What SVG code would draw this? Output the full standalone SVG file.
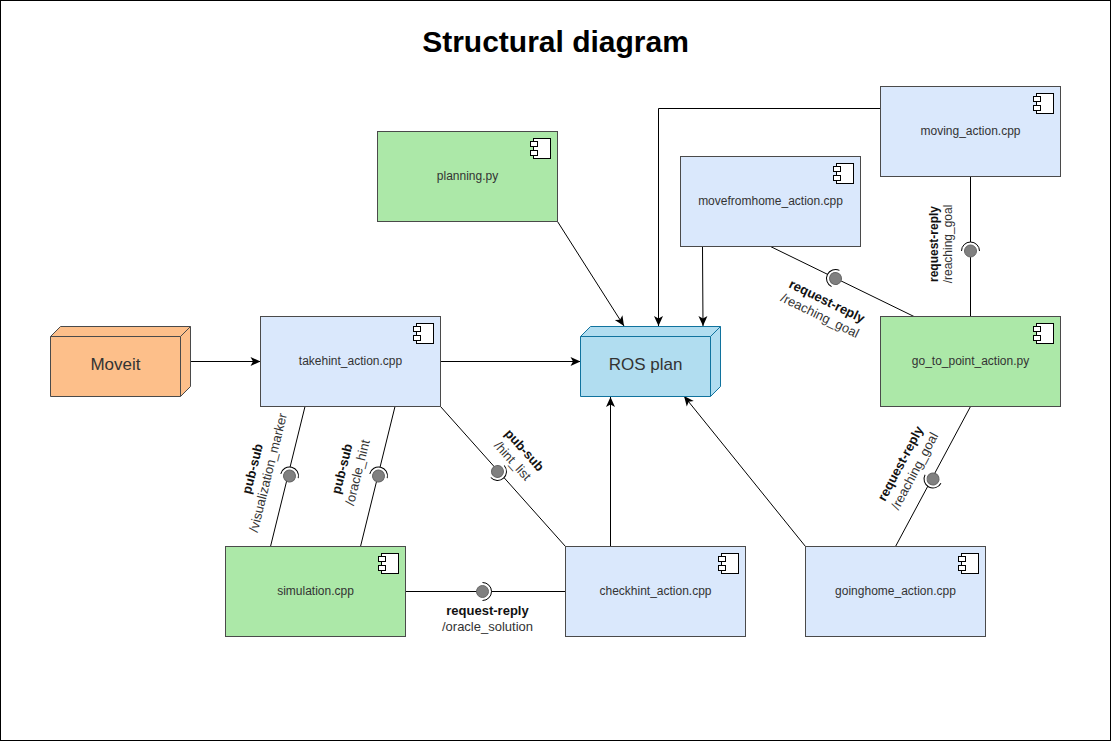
<svg xmlns="http://www.w3.org/2000/svg" width="1111" height="742" viewBox="0 0 1111 742">
<style>
text{font-family:"Liberation Sans",Arial,sans-serif;font-size:12px;fill:#333;text-anchor:middle}
.t{font-size:30px;font-weight:bold;fill:#000}
.big{font-size:17px}
.b{font-size:13px;font-weight:bold;fill:#111}
.r{font-size:13px;fill:#333}
.s{font-size:12px}
.box{stroke:#4a4a4a;stroke-width:1}
.blue{fill:#dae8fc}
.green{fill:#ace8a8}
.ln{fill:none;stroke:#000;stroke-width:1}
.ball{fill:#808080;stroke:#666;stroke-width:1}
.arc{fill:#fff;stroke:#000;stroke-width:1}
.ic{fill:#fff;stroke:#000;stroke-width:1}
.cube{stroke-width:1;stroke-linejoin:round}
</style>
<defs>
<marker id="a" markerUnits="userSpaceOnUse" markerWidth="12" markerHeight="11" refX="10.5" refY="5.5" orient="auto"><path d="M0.5,1 L10.5,5.5 L0.5,10 L3,5.5 Z" fill="#000"/></marker>
<g id="icon"><rect class="ic" x="156" y="7" width="17" height="20"/><rect class="ic" x="153" y="10" width="7" height="5"/><rect class="ic" x="153" y="19" width="7" height="5"/></g>
<g id="sock"><path class="arc" d="M0,-9 A9,9 0 0 1 0,9"/><circle class="ball" r="6"/></g>
</defs>
<rect width="1111" height="742" fill="#fff"/>
<rect x="0.5" y="0.5" width="1110" height="740" fill="#fff" stroke="#000"/>
<text class="t" x="555.5" y="52">Structural diagram</text>
<g id="connectors">
<path class="ln" d="M305,406.5 L270.5,546.5"/>
<path class="ln" d="M395,406.5 L360.5,546.5"/>
<path class="ln" d="M440.5,406.5 L565.5,546.5"/>
<path class="ln" d="M405.5,591.5 H565.5"/>
<path class="ln" d="M770.5,246.5 L914,316.5"/>
<path class="ln" d="M970.5,176.5 V316.5"/>
<path class="ln" d="M970.5,406.5 L895.5,546.5"/>
<path class="ln" marker-end="url(#a)" d="M190.5,361.5 H260.5"/>
<path class="ln" marker-end="url(#a)" d="M440.5,361.5 H580.5"/>
<path class="ln" marker-end="url(#a)" d="M557.5,221.5 L624,326"/>
<path class="ln" marker-end="url(#a)" d="M880.5,108.5 H658.5 V326"/>
<path class="ln" marker-end="url(#a)" d="M702.5,246.5 L703,326"/>
<path class="ln" marker-end="url(#a)" d="M610.5,546.5 V397"/>
<path class="ln" marker-end="url(#a)" d="M805.5,546.5 L684,396"/>
<use href="#sock" transform="translate(289.5,476) rotate(-76)"/>
<use href="#sock" transform="translate(378.5,476) rotate(-76)"/>
<use href="#sock" transform="translate(497.5,471.5) rotate(48)"/>
<use href="#sock" transform="translate(482.5,591.5)"/>
<use href="#sock" transform="translate(835.5,278.5) rotate(206)"/>
<use href="#sock" transform="translate(970.5,251) rotate(-90)"/>
<use href="#sock" transform="translate(933,479) rotate(118)"/>
</g>
<g id="labels">
<g transform="translate(265.5,472) rotate(-76)"><text class="b" y="-9">pub-sub</text><text class="r" y="7">/visualization_marker</text></g>
<g transform="translate(355,472) rotate(-76)"><text class="b" y="-9">pub-sub</text><text class="r" y="7">/oracle_hint</text></g>
<g transform="translate(519,455) rotate(48)"><text class="b" y="-3">pub-sub</text><text class="r" y="13">/hint_list</text></g>
<g transform="translate(487.5,615)"><text class="b">request-reply</text><text class="r" y="16">/oracle_solution</text></g>
<g transform="translate(825,305) rotate(26)"><text class="b" y="0">request-reply</text><text class="r" y="16">/reaching_goal</text></g>
<g transform="translate(938,244) rotate(-90)"><text class="b s" y="0">request-reply</text><text class="r s" y="14">/reaching_goal</text></g>
<g transform="translate(907,467) rotate(-62)"><text class="b" y="-3">request-reply</text><text class="r" y="13">/reaching_goal</text></g>
</g>
<g id="planning"><rect class="box green" x="377.5" y="131.5" width="180" height="90"/><use href="#icon" x="377.5" y="131.5"/><text x="467.5" y="180">planning.py</text></g>
<g id="moving"><rect class="box blue" x="880.5" y="86.5" width="180" height="90"/><use href="#icon" x="880.5" y="86.5"/><text x="970.5" y="135">moving_action.cpp</text></g>
<g id="movefromhome"><rect class="box blue" x="680.5" y="156.5" width="180" height="90"/><use href="#icon" x="680.5" y="156.5"/><text x="770.5" y="205">movefromhome_action.cpp</text></g>
<g id="takehint"><rect class="box blue" x="260.5" y="316.5" width="180" height="90"/><use href="#icon" x="260.5" y="316.5"/><text x="350.5" y="365">takehint_action.cpp</text></g>
<g id="goto"><rect class="box green" x="880.5" y="316.5" width="180" height="90"/><use href="#icon" x="880.5" y="316.5"/><text x="970.5" y="365">go_to_point_action.py</text></g>
<g id="simulation"><rect class="box green" x="225.5" y="546.5" width="180" height="90"/><use href="#icon" x="225.5" y="546.5"/><text x="315.5" y="595">simulation.cpp</text></g>
<g id="checkhint"><rect class="box blue" x="565.5" y="546.5" width="180" height="90"/><use href="#icon" x="565.5" y="546.5"/><text x="655.5" y="595">checkhint_action.cpp</text></g>
<g id="goinghome"><rect class="box blue" x="805.5" y="546.5" width="180" height="90"/><use href="#icon" x="805.5" y="546.5"/><text x="895.5" y="595">goinghome_action.cpp</text></g>
<g id="moveit"><path class="cube" fill="#fdbf8a" stroke="#4a4a4a" d="M50.5,336.5 L60.5,326.5 H190.5 V386.5 L180.5,396.5 H50.5 Z"/><path class="cube" fill="none" stroke="#4a4a4a" d="M50.5,336.5 H180.5 V396.5 M180.5,336.5 L190.5,326.5"/><text class="big" x="115.5" y="369.5">Moveit</text></g>
<g id="rosplan"><path class="cube" fill="#b1ddf0" stroke="#10739e" d="M580.5,336.5 L590.5,326.5 H720.5 V386.5 L710.5,396.5 H580.5 Z"/><path class="cube" fill="none" stroke="#10739e" d="M580.5,336.5 H710.5 V396.5 M710.5,336.5 L720.5,326.5"/><text class="big" x="645.5" y="369.5">ROS plan</text></g>
</svg>
